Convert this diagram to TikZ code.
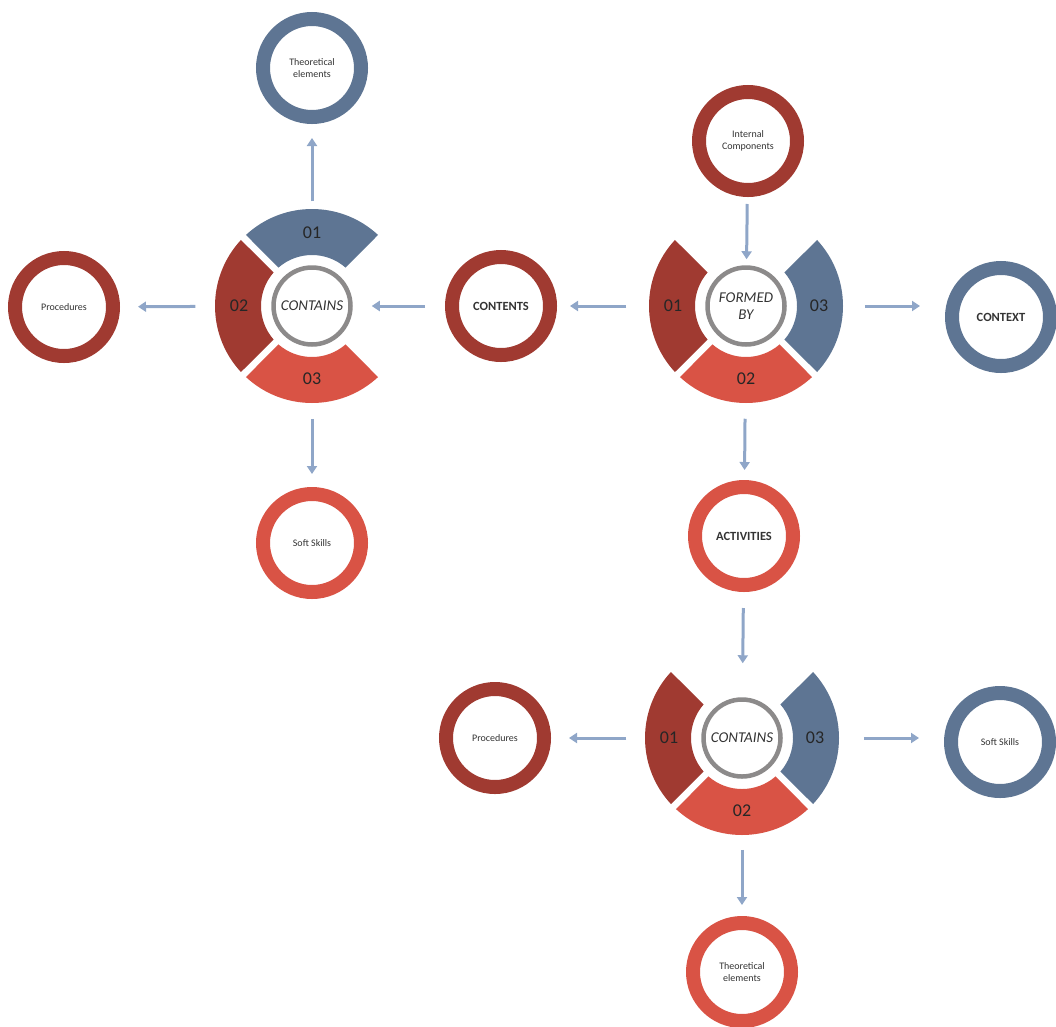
\documentclass[tikz,border=0pt]{standalone}
\usepackage{fontspec}
\setmainfont{Carlito}
\usetikzlibrary{calc,arrows.meta}
\definecolor{slateblue}{HTML}{5E7593}
\definecolor{brickred}{HTML}{A03A31}
\definecolor{coralred}{HTML}{D95345}
\definecolor{linkblue}{HTML}{8FA6C8}
\definecolor{hubgray}{HTML}{8C8A8A}
\newcommand{\segfont}{\fontsize{18}{20}\selectfont}
\def\ringseg[#1](#2)(#3:#4:#5){%
	\fill[#1] ($(#2)+(#3+2.1:97)$) arc[start angle=#3+2.1, end angle=#4-2.1, radius=97]
		-- ($(#2)+(#4-3.9:51)$) arc[start angle=#4-3.9, end angle=#3+3.9, radius=51] -- cycle;
	\node[font=\segfont, text=black!85] at ($(#2)+({(#3+#4)/2}:73)$) {#5};}
\tikzset{
	ring/.style={circle, draw=#1, line width=14pt, minimum size=98pt, inner sep=0pt,
		align=center, text=black!80, font=\fontsize{10}{12}\selectfont},
	keyring/.style={ring=#1, font=\fontsize{12.5}{14}\selectfont\bfseries},
	hub/.style={circle, draw=hubgray, line width=4.5pt, minimum size=77pt, inner sep=0pt,
		align=center, text=black!80, font=\fontsize{15}{17}\selectfont\itshape},
	link/.style={draw=linkblue, line width=3pt, -{Triangle[width=10pt,length=8pt]}}
}
\begin{document}
\begin{tikzpicture}[x=1pt, y=1pt]
		%%%%% START %%%%%
		\useasboundingbox (0,0) rectangle (1056,-1026);
		
		% hubs
		\node[hub] (hubA) at (312,-306) {CONTAINS};
		\node[hub] (hubB) at (746,-306) {FORMED\\BY};
		\node[hub] (hubC) at (742,-738) {CONTAINS};
		
		\ringseg[slateblue](hubA)(45:135:01);
		\ringseg[brickred](hubA)(135:225:02);
		\ringseg[coralred](hubA)(225:315:03);
		
		\ringseg[brickred](hubB)(135:225:01);
		\ringseg[coralred](hubB)(225:315:02);
		\ringseg[slateblue](hubB)(-45:45:03);
		
		\ringseg[brickred](hubC)(135:225:01);
		\ringseg[coralred](hubC)(225:315:02);
		\ringseg[slateblue](hubC)(-45:45:03);
		
		% rings
		\node[ring=slateblue] (theoA) at (312,-68) {Theoretical\\elements};
		\node[ring=brickred] (procA) at (64,-307) {Procedures};
		\node[ring=coralred] (softA) at (312,-543) {Soft Skills};
		\node[keyring=brickred] (contents) at (501,-306) {CONTENTS};
		\node[ring=brickred] (internal) at (748,-141) {Internal\\Components};
		\node[keyring=slateblue] (context) at (1001,-317) {CONTEXT};
		\node[keyring=coralred] (activities) at (744,-536) {ACTIVITIES};
		\node[ring=brickred] (procC) at (495,-738) {Procedures};
		\node[ring=slateblue] (softC) at (1000,-742) {Soft Skills};
		\node[ring=coralred] (theoC) at (742,-972) {Theoretical\\elements};
		
		% links
		\draw[link, shorten <=64pt, shorten >=14pt] (hubA) -- (theoA);
		\draw[link, shorten <=76pt, shorten >=18pt] (hubA) -- (procA);
		\draw[link, shorten <=72pt, shorten >=13pt] (hubA) -- (softA);
		\draw[link, shorten <=20pt, shorten >=19pt] (contents) -- (hubA);
		
		\draw[link, shorten <=79pt, shorten >=13pt] (hubB) -- (contents);
		\draw[link, shorten <=7pt, shorten >=6pt] (internal) -- (hubB);
		\draw[link, shorten <=78pt, shorten >=25pt] (hubB) -- (hubB -| context.west);
		\draw[link, shorten <=72pt, shorten >=10pt] (hubB) -- (activities);
		
		\draw[link, shorten <=16pt, shorten >=34pt] (activities) -- (hubC);
		\draw[link, shorten <=75pt, shorten >=18pt] (hubC) -- (procC);
		\draw[link, shorten <=81pt, shorten >=25pt] (hubC) -- (hubC -| softC.west);
		\draw[link, shorten <=71pt, shorten >=11pt] (hubC) -- (theoC);
		
		%%%%% END %%%%%
\end{tikzpicture}
\end{document}
